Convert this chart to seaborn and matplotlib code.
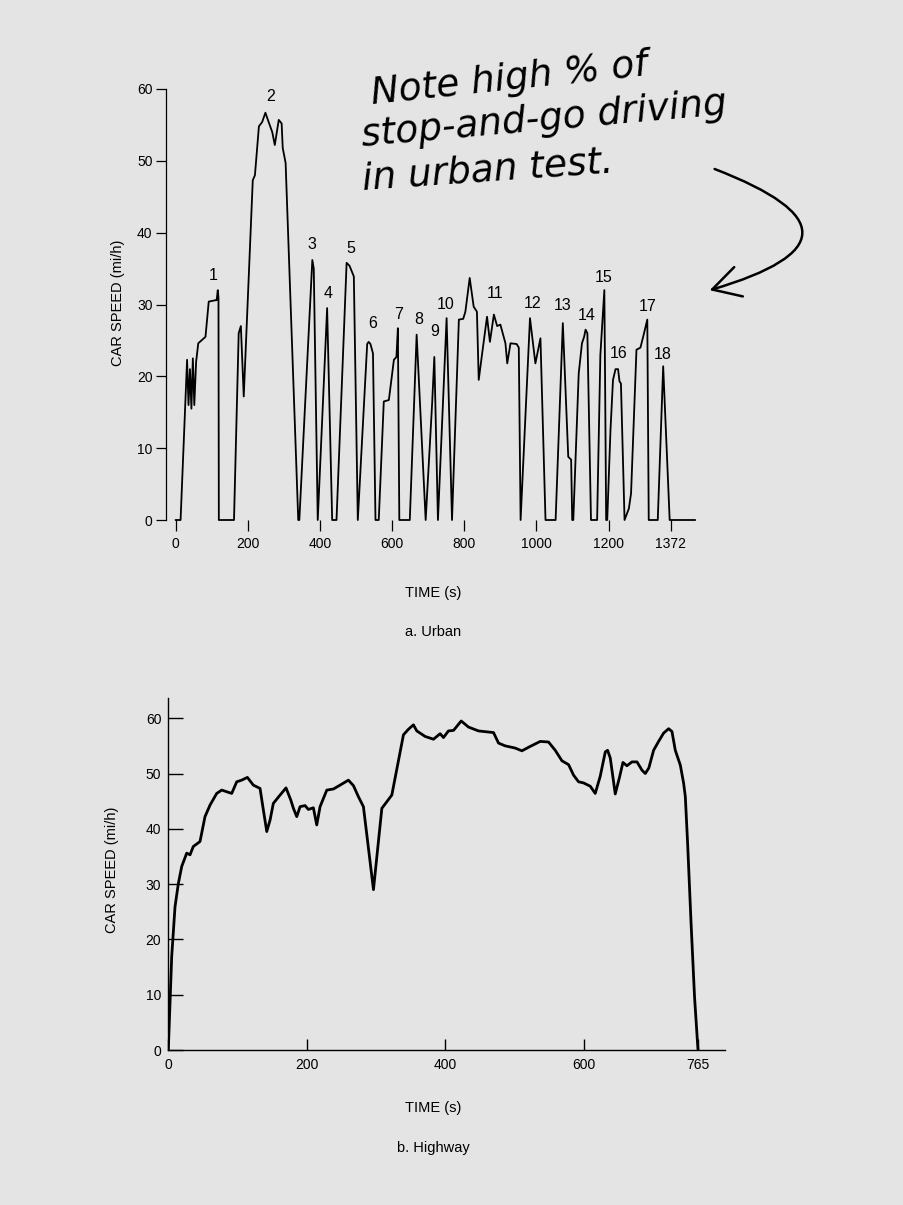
import numpy as np
import pandas as pd
import matplotlib
matplotlib.use("Agg")
import matplotlib.pyplot as plt
import seaborn as sns

# Urban driving cycle: time (s) and car speed (mi/h)
urban_time = [0, 14, 32, 36, 40, 44, 48, 52, 57, 63, 83, 92, 111, 114, 117, 119, 120,
              162, 175, 181, 189, 214, 220, 231, 240, 249, 258, 268, 275, 286, 294, 297,
              305, 340, 343, 379, 383, 394, 420, 434, 446, 474, 482, 494, 505, 531, 535,
              540, 547, 554, 563, 577, 591, 605, 612, 616, 620, 649, 668, 693, 711, 717,
              727, 751, 766, 785, 797, 803, 815, 826, 835, 840, 849, 863, 871, 882, 891,
              900, 914, 919, 928, 945, 951, 956, 982, 997, 1011, 1025, 1053, 1073, 1088,
              1096, 1099, 1102, 1117, 1126, 1132, 1136, 1141, 1151, 1168, 1177, 1188,
              1190, 1193, 1196, 1205, 1212, 1219, 1226, 1230, 1234, 1244, 1256, 1262,
              1277, 1288, 1297, 1307, 1311, 1336, 1351, 1369, 1440]
urban_speed = [0, 0, 22.3, 16, 21, 15.5, 22.5, 16, 22, 24.6, 25.5, 30.4, 30.6, 30.6, 32, 31, 0,
               0, 26, 27, 17.2, 47.3, 48, 54.8, 55.4, 56.7, 55.4, 54, 52.2, 55.7, 55.2, 51.8,
               49.7, 0, 0, 36.2, 35, 0, 29.5, 0, 0, 35.8, 35.4, 33.9, 0, 24.5, 24.8,
               24.5, 23.2, 0, 0, 16.5, 16.7, 22.3, 22.7, 26.7, 0, 0, 25.8, 0, 16.3, 22.7,
               0, 28.1, 0, 27.9, 28, 29, 33.7, 29.7, 29, 19.5, 23, 28.3, 24.8, 28.6, 27,
               27.2, 24.6, 21.8, 24.6, 24.5, 24, 0, 28.1, 21.8, 25.3, 0, 0, 27.4, 8.8,
               8.4, 0, 0, 20.4, 24.6, 25.5, 26.5, 26, 0, 0, 23, 32,
               20, 0, 0, 12.5, 19.5, 21, 21, 19.3, 19, 0, 1.6, 3.7,
               23.7, 24, 25.8, 27.9, 0, 0, 21.4, 0, 0]

# Hill labels 1-18 and where they sit (time, speed)
hill_labels = [str(i) for i in range(1, 19)]
hill_time = [105, 263, 379, 422, 487, 545, 619, 674, 717, 748, 886, 990, 1073, 1138,
             1185, 1228, 1309, 1351]
hill_speed = [34, 59, 38.3, 31.6, 37.8, 27.4, 28.6, 27.9, 26.2, 30, 31.6, 30.2, 29.8, 28.4,
              33.8, 23.2, 29.7, 23]

# Highway driving cycle
highway_time = [0, 4.9, 9.7, 14.5, 19.4, 26.6, 31.4, 36.1, 45.8, 53, 60.3, 69.9, 77.2, 91.6,
                98.8, 106, 114.2, 122.8, 132.5, 137.3, 142.2, 147, 151.7, 161.4, 170,
                176.9, 180.7, 185.5, 190.3, 197.5, 202.3, 209.5, 214.4, 219.2, 228.9,
                238.5, 248.1, 260.1, 267.4, 274.6, 281.8, 296.3, 308.4, 322.8, 339.6,
                346.8, 354, 358.9, 370.9, 383, 392.6, 397.4, 404.6, 412, 423, 433.5, 448,
                469.7, 476.9, 486.5, 501, 510.7, 522.7, 537.1, 549.1, 558.8, 568.5, 578.1,
                585.3, 592.5, 599.7, 609.4, 616.6, 623.8, 631.1, 634.4, 638.3, 645.5,
                651.8, 656.6, 662.4, 669.6, 676.9, 684.1, 688.9, 694, 700.9, 708.1, 715.3,
                722.6, 727.4, 732.2, 739.5, 744.3, 746.7, 750, 755, 760, 765]
highway_speed = [0, 16.9, 25.9, 30.1, 33.2, 35.6, 35.3, 36.8, 37.7, 42.2, 44.3, 46.4, 47, 46.4,
                 48.5, 48.8, 49.3, 47.9, 47.3, 43.4, 39.5, 41.6, 44.6, 46.1, 47.4,
                 45.2, 43.7, 42.2, 44, 44.2, 43.5, 43.8, 40.7, 44, 47,
                 47.2, 47.9, 48.8, 47.8, 45.8, 44, 29, 43.7, 46.1, 57,
                 58, 58.8, 57.7, 56.7, 56.2, 57.2, 56.5, 57.7, 57.8, 59.5, 58.4, 57.7,
                 57.4, 55.5, 55, 54.6, 54.1, 54.9, 55.8, 55.7, 54.2, 52.3, 51.6,
                 49.7, 48.5, 48.3, 47.7, 46.4, 49.5, 53.9, 54.2, 52.8, 46.3,
                 49.4, 52, 51.4, 52.1, 52.1, 50.6, 50, 51, 54.2, 55.8, 57.3,
                 58.1, 57.6, 54.2, 51.5, 48.2, 45.8, 37.4, 22.9, 9.6, 0]

urban_ticks = [0, 200, 400, 600, 800, 1000, 1200, 1372]
highway_ticks = [0, 200, 400, 600, 765]
speed_ticks = [0, 10, 20, 30, 40, 50, 60]

urban = pd.DataFrame({"time": urban_time, "speed": urban_speed})
highway = pd.DataFrame({"time": highway_time, "speed": highway_speed})

sns.set_style("ticks")
plt.rcParams["font.family"] = ["Liberation Sans", "DejaVu Sans"]
plt.rcParams.update({"text.color": "black", "axes.labelcolor": "black",
                     "xtick.color": "black", "ytick.color": "black",
                     "axes.edgecolor": "black"})

W, H = 904, 1205
fig = plt.figure(figsize=(W / 100, H / 100), dpi=100)
bg = "#e4e4e4"
fig.patch.set_facecolor(bg)

def px(x, y):
    return x / W, 1 - y / H

# ---- a. Urban ----
ax1 = fig.add_axes([166.5 / W, 1 - 520 / H, 528.8 / W, 431 / H])
ax1.set_facecolor("none")
sns.lineplot(data=urban, x="time", y="speed", ax=ax1, color="black", lw=1.3,
             estimator=None, sort=False)
ax1.lines[-1].set_clip_on(False)
ax1.set_xlim(-25, 1440)
ax1.set_ylim(0, 60)
ax1.set_xticks(urban_ticks)
ax1.set_yticks(speed_ticks)
ax1.set_xlabel("")
ax1.set_ylabel("")
for side in ["top", "right", "bottom"]:
    ax1.spines[side].set_visible(False)
ax1.spines["left"].set_bounds(0, 60)
ax1.spines["left"].set_linewidth(0.9)
ax1.tick_params(axis="y", direction="out", length=7, width=0.9, pad=3, labelsize=10)
ax1.tick_params(axis="x", direction="out", length=8, width=0.9, pad=4, labelsize=10)
for lab, t, v in zip(hill_labels, hill_time, hill_speed):
    ax1.text(t, v, lab, ha="center", va="center", fontsize=11.5)

fig.text(*px(118, 303), "CAR SPEED (mi/h)", rotation=90, ha="center", va="center", fontsize=10.5)
fig.text(*px(433, 593), "TIME (s)", ha="center", va="center", fontsize=10.5)
fig.text(*px(433, 632), "a. Urban", ha="center", va="center", fontsize=10.5)

# ---- b. Highway ----
ax2 = fig.add_axes([168.3 / W, 1 - 1050 / H, (725 - 168.3) / W, 351.7 / H])
ax2.set_facecolor("none")
sns.lineplot(data=highway, x="time", y="speed", ax=ax2, color="black", lw=2.0,
             estimator=None, sort=False)
ax2.set_xlim(0, 804)
ax2.set_ylim(0, 63.6)
ax2.set_xticks(highway_ticks)
ax2.set_yticks(speed_ticks)
ax2.set_xlabel("")
ax2.set_ylabel("")
for side in ["top", "right"]:
    ax2.spines[side].set_visible(False)
for side in ["left", "bottom"]:
    ax2.spines[side].set_linewidth(1.0)
ax2.tick_params(axis="y", direction="in", length=11, width=1.0, pad=5, labelsize=10)
ax2.tick_params(axis="x", direction="in", length=8, width=1.0, pad=6, labelsize=10)

fig.text(*px(112, 870), "CAR SPEED (mi/h)", rotation=90, ha="center", va="center", fontsize=10.5)
fig.text(*px(433, 1108), "TIME (s)", ha="center", va="center", fontsize=10.5)
fig.text(*px(433, 1148), "b. Highway", ha="center", va="center", fontsize=10.5)

# ---- handwritten note with curved arrow ----
note_kw = dict(family="DejaVu Sans", style="oblique", fontsize=27, ha="left",
               va="baseline", rotation_mode="anchor", color="black")
fig.text(*px(372, 104), "Note high % of", rotation=6, **note_kw)
fig.text(*px(362, 146), "stop-and-go driving", rotation=5, **note_kw)
fig.text(*px(363, 190), "in urban test.", rotation=4, **note_kw)

ax1.annotate("", xy=(707, H - 291), xytext=(712, H - 168),
             xycoords="figure pixels", textcoords="figure pixels",
             arrowprops=dict(arrowstyle="->,head_length=0.9,head_width=0.5",
                             connectionstyle="arc3,rad=-1.5", lw=1.8,
                             color="black", mutation_scale=22))

fig.savefig("out.png", dpi=100, facecolor=bg)
